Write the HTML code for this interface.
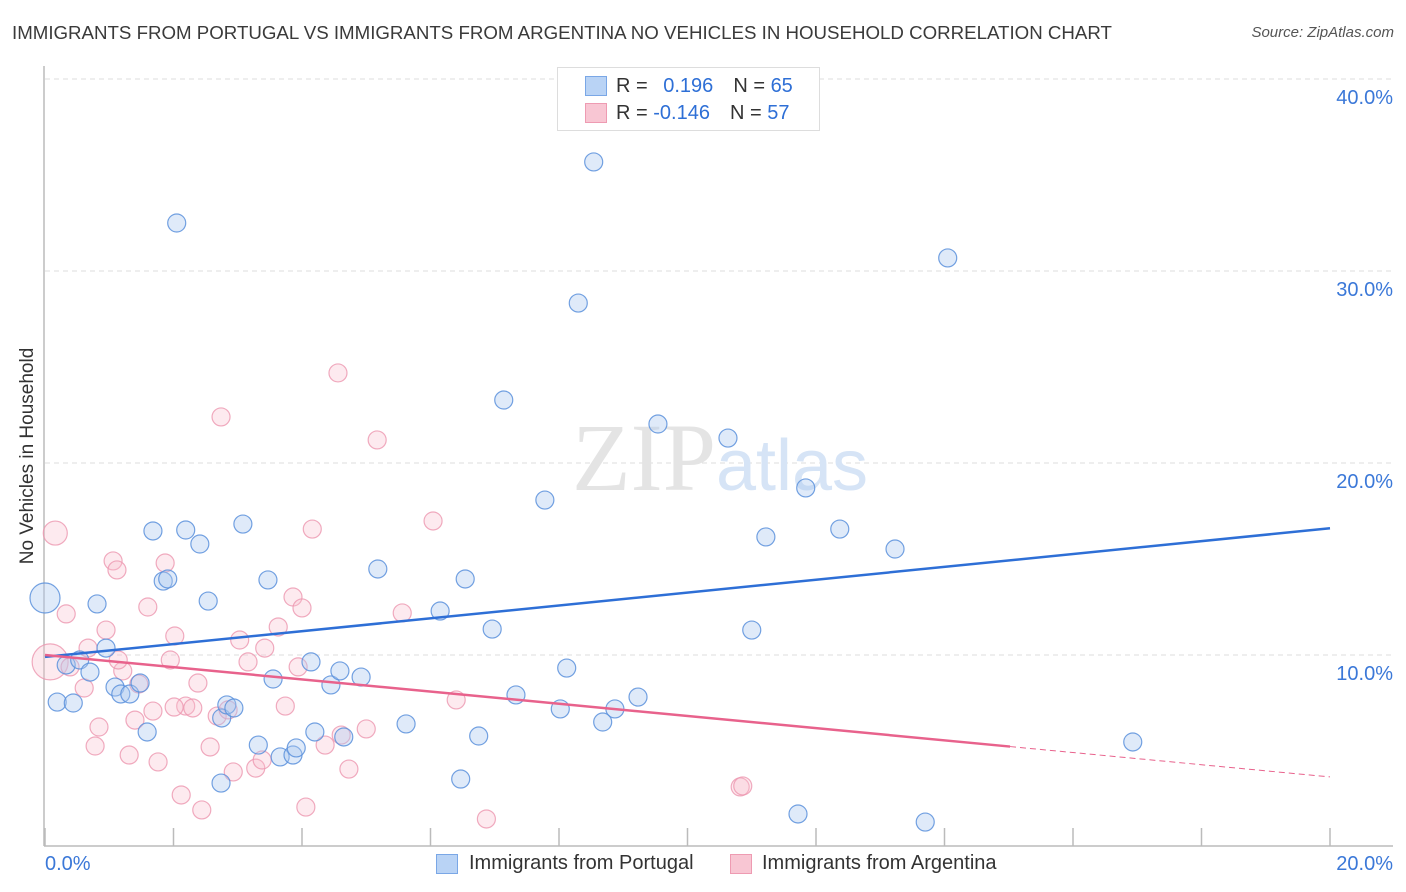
<!DOCTYPE html>
<html><head><meta charset="utf-8">
<style>
body{margin:0;background:#fff;font-family:"Liberation Sans",sans-serif;}
#wrap{position:relative;width:1406px;height:892px;overflow:hidden;}
.t{position:absolute;white-space:nowrap;}
</style></head>
<body>
<div id="wrap">
<div class="t" style="left:12px;top:22px;font-size:18.7px;color:#3a3a3a;">IMMIGRANTS FROM PORTUGAL VS IMMIGRANTS FROM ARGENTINA NO VEHICLES IN HOUSEHOLD CORRELATION CHART</div>
<div class="t" style="right:12px;top:24px;font-size:15px;color:#555;font-style:italic;">Source: ZipAtlas.com</div>
<div class="t" style="left:28px;top:456px;font-size:19px;color:#333;transform:translate(-50%,-50%) rotate(-90deg);">No Vehicles in Household</div>
<svg id="plot" width="1406" height="892" style="position:absolute;left:0;top:0"></svg>
<div style="position:absolute;left:557px;top:67px;width:261px;height:62px;border:1px solid #ddd;background:#fff;font-size:20px;">
 <div style="position:absolute;left:27px;top:8px;width:20px;height:18px;background:#b9d3f5;border:1px solid #7aa7e6;"></div>
 <div class="t" style="left:58px;top:7px;color:#333;">R = <span style="color:#2e6fd6;margin-left:10px">0.196</span><span style="color:#333;margin-left:20px">N = </span><span style="color:#2e6fd6">65</span></div>
 <div style="position:absolute;left:27px;top:35px;width:20px;height:18px;background:#f8c6d3;border:1px solid #ee9bb2;"></div>
 <div class="t" style="left:58px;top:34px;color:#333;">R = <span style="color:#2e6fd6;margin-left:0px">-0.146</span><span style="color:#333;margin-left:20px">N = </span><span style="color:#2e6fd6">57</span></div>
</div>
<div style="position:absolute;left:436px;top:852px;font-size:20px;color:#333;">
 <div style="position:absolute;left:0;top:2px;width:20px;height:18px;background:#b9d3f5;border:1px solid #7aa7e6;"></div>
 <div class="t" style="left:33px;top:0;">Immigrants from Portugal</div>
 <div style="position:absolute;left:294px;top:2px;width:20px;height:18px;background:#f8c6d3;border:1px solid #ee9bb2;"></div>
 <div class="t" style="left:326px;top:0;">Immigrants from Argentina</div>
</div>
</div>
<script>
const xTicks=[0,20];
const yTicks=[10,20,30,40];
const blueX=[0,0.19,0.44,0.33,0.54,0.70,0.81,0.95,1.09,1.18,1.32,1.48,1.59,1.68,1.84,1.91,2.05,2.19,2.41,2.54,2.74,2.75,2.83,2.94,3.08,3.32,3.47,3.55,3.66,3.86,3.91,4.14,4.20,4.45,4.59,4.65,4.92,5.18,5.62,6.15,6.47,6.54,6.75,6.96,7.14,7.33,7.78,8.02,8.12,8.30,8.54,8.68,8.87,9.23,9.54,10.63,11.00,11.22,11.72,11.84,12.37,13.23,13.70,14.05,16.93];
const blueY=[12.97,7.55,7.50,9.48,9.74,9.11,12.66,10.36,8.33,7.97,7.97,8.54,5.99,16.46,13.85,13.96,32.50,16.51,15.78,12.81,3.33,6.72,7.40,7.24,16.82,5.31,13.91,8.75,4.69,4.79,5.16,9.64,5.99,8.44,9.17,5.73,8.85,14.48,6.41,12.29,3.54,13.96,5.78,11.35,23.28,7.92,18.07,7.19,9.32,28.33,35.68,6.51,7.19,7.81,22.03,21.30,11.30,16.15,1.72,18.70,16.56,15.52,1.30,30.68,5.47];
const pinkX=[0.16,0.08,0.33,0.39,0.61,0.67,0.78,0.84,0.95,1.06,1.12,1.21,1.31,1.40,1.46,1.60,1.68,1.76,1.87,1.95,2.02,2.12,2.19,2.30,2.38,2.44,2.57,2.68,2.74,2.85,2.93,3.03,3.16,3.28,3.38,3.42,3.63,3.74,3.86,3.94,4.00,4.06,4.16,4.36,4.56,4.61,4.73,5.00,5.17,5.56,6.04,6.40,6.87,10.82,10.86,1.14,2.01];
const pinkY=[16.35,9.64,12.14,9.38,8.28,10.36,5.26,6.25,11.30,14.90,14.43,9.17,4.79,6.61,8.49,12.50,7.08,4.43,14.79,9.74,10.99,2.71,7.34,7.24,8.54,1.93,5.21,6.82,22.40,7.14,3.91,10.78,9.64,4.11,4.53,10.36,11.46,7.34,13.02,9.38,12.45,2.08,16.56,5.31,24.69,5.83,4.06,6.15,21.20,12.19,16.98,7.66,1.46,3.13,3.18,9.74,7.29];
const blueTrend=[9.9,16.6];
const pinkTrend=[10.0,3.65];
const pinkSolidEnd=15.02;

const X0=45,X1=1330,Y0=847,PX=19.2;
const sx=v=>X0+(v/20)*(X1-X0);
const sy=v=>Y0-v*PX;
const svg=document.getElementById('plot');
const NS='http://www.w3.org/2000/svg';
function mk(tag,attrs){const e=document.createElementNS(NS,tag);for(const k in attrs)e.setAttribute(k,attrs[k]);svg.appendChild(e);return e;}

yTicks.forEach(v=>{
 const g=mk('line',{x1:45,x2:1393,y1:sy(v),y2:sy(v),stroke:'#ddd','stroke-dasharray':'5,4'});
 
 
 const t=mk('text',{x:1393,y:sy(v)+25,'text-anchor':'end','font-size':20,fill:'#3b78d8','font-family':'Liberation Sans, sans-serif'});
 t.textContent=v.toFixed(1)+'%';
 
 
});
const ax=mk('line',{x1:44,x2:44,y1:66,y2:846,stroke:'#bbb','stroke-width':1.5});


const bx=mk('line',{x1:44,x2:1393,y1:846,y2:846,stroke:'#bbb','stroke-width':1.5});


for(let i=0;i<=10;i++){
 const tk=mk('line',{x1:sx(i*2),x2:sx(i*2),y1:828,y2:846,stroke:'#bbb','stroke-width':1.5});
 
 
}
xTicks.forEach((v,i)=>{
 const t=mk('text',{x:i==0?45:1393,y:870,'text-anchor':i==0?'start':'end','font-size':20,fill:'#3b78d8','font-family':'Liberation Sans, sans-serif'});
 t.textContent=v.toFixed(1)+'%';
 
 
});
const wm=mk('text',{x:720,y:490,'text-anchor':'middle','font-size':96,fill:'#e4e4e4','font-family':'Liberation Serif, serif'});
wm.innerHTML='ZIP<tspan fill="#d6e4f6" font-family="Liberation Sans, sans-serif" font-size="72">atlas</tspan>';



pinkX.forEach((v,i)=>{
 const r=i==0?12:(i==1?18:9);
 const c=mk('circle',{cx:sx(v),cy:sy(pinkY[i]),r:r,fill:'rgba(248,190,206,0.32)',stroke:'rgba(236,150,175,0.8)','stroke-width':1.2});
 
 
});
blueX.forEach((v,i)=>{
 const r=i==0?15:9;
 const c=mk('circle',{cx:sx(v),cy:sy(blueY[i]),r:r,fill:'rgba(170,200,240,0.38)',stroke:'rgba(90,145,220,0.85)','stroke-width':1.2});
 
 
});
const bl=mk('line',{x1:sx(0),y1:sy(blueTrend[0]),x2:sx(20),y2:sy(blueTrend[1]),stroke:'#2e6fd6','stroke-width':2.5});


const pAt=x=>pinkTrend[0]+(pinkTrend[1]-pinkTrend[0])*x/20;
const pl=mk('line',{x1:sx(0),y1:sy(pinkTrend[0]),x2:sx(pinkSolidEnd),y2:sy(pAt(pinkSolidEnd)),stroke:'#e8628c','stroke-width':2.5});


const pd=mk('line',{x1:sx(pinkSolidEnd),y1:sy(pAt(pinkSolidEnd)),x2:sx(20),y2:sy(pinkTrend[1]),stroke:'#e8628c','stroke-width':1,'stroke-dasharray':'6,4'});


</script>
</body></html>
